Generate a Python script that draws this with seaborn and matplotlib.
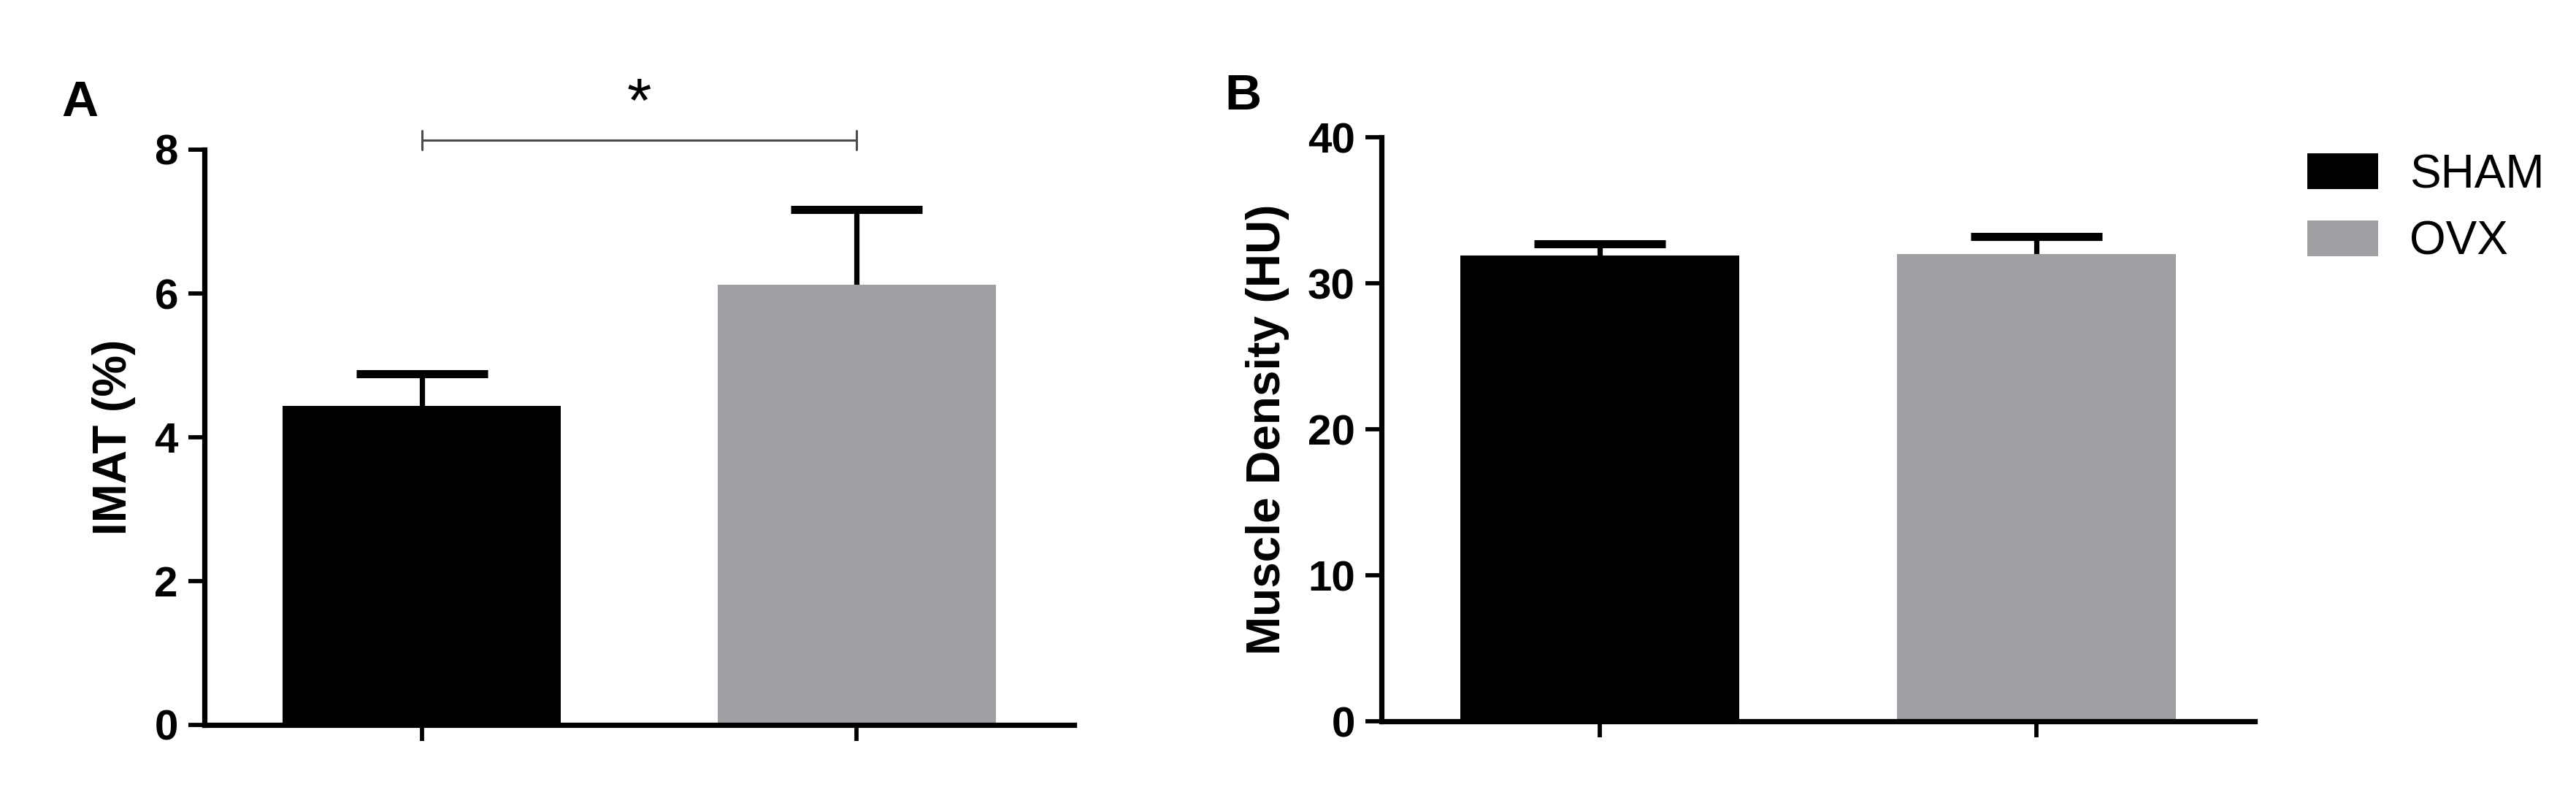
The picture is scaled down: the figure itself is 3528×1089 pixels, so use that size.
import matplotlib
matplotlib.use("Agg")
import matplotlib.pyplot as plt
from matplotlib.patches import Patch
import seaborn as sns
import pandas as pd
import numpy as np

# ---- data ----
groups = ["SHAM", "OVX"]
colors = ["#000000", "#a09fa4"]
imat_mean = [4.44, 6.12]
imat_sem = [0.44, 1.05]
density_mean = [31.9, 32.0]
density_sem = [0.8, 1.2]
imat_ticks = [0, 2, 4, 6, 8]
density_ticks = [0, 10, 20, 30, 40]

sns.set_style("ticks")
plt.rcParams["font.family"] = ["Liberation Sans", "DejaVu Sans"]
for k in ["text.color", "axes.labelcolor", "xtick.color", "ytick.color", "axes.edgecolor"]:
    plt.rcParams[k] = "black"

W, H = 3528, 1089
fig = plt.figure(figsize=(W / 100, H / 100), dpi=100)

axA = fig.add_axes([280 / W, 1 - 993 / H, (1471 - 280) / W, (993 - 205) / H])
axB = fig.add_axes([1892 / W, 1 - 988 / H, (3088 - 1892) / W, (988 - 188) / H])

df = pd.DataFrame({"group": groups, "imat": imat_mean, "density": density_mean})
pal = dict(zip(groups, colors))

LW = 5.2
for ax, col, sem, ticks, ylab in [
    (axA, "imat", imat_sem, imat_ticks, "IMAT (%)"),
    (axB, "density", density_sem, density_ticks, "Muscle Density (HU)"),
]:
    sns.barplot(data=df, x="group", y=col, hue="group", palette=pal,
                order=groups, hue_order=groups, width=0.64, errorbar=None,
                legend=False, saturation=1, linewidth=0, ax=ax, zorder=2)
    eb = ax.errorbar(range(len(groups)), df[col], yerr=[[0] * len(sem), sem],
                     fmt="none", ecolor="black", elinewidth=5.2, capsize=65,
                     capthick=8, zorder=1)
    # keep only the upper caps
    heights = np.asarray(df[col], dtype=float)
    for cap in eb[1]:
        if np.allclose(np.asarray(cap.get_ydata(), dtype=float), heights):
            cap.set_visible(False)
    ax.set_xlim(-0.5, 1.5)
    ax.set_ylim(ticks[0], ticks[-1])
    ax.set_yticks(ticks)
    ax.set_yticklabels([str(t) for t in ticks], fontsize=42, fontweight="bold")
    ax.set_xticks(range(len(groups)))
    ax.set_xticklabels(["", ""])
    ax.set_xlabel("")
    ax.set_ylabel(ylab, fontsize=46, fontweight="bold", labelpad=18)
    sns.despine(ax=ax)
    for s in ["left", "bottom"]:
        ax.spines[s].set_linewidth(LW)
        ax.spines[s].set_color("black")
        ax.spines[s].set_capstyle("projecting")
    ax.tick_params(axis="both", length=16, width=LW * 0.8, color="black", pad=10)
    ax.set_facecolor("white")

# significance bracket on panel A
bc = "#4a4a4a"
axA.plot([0, 1], [8.13, 8.13], color=bc, lw=2.2, clip_on=False)
axA.plot([0, 0], [8.0, 8.26], color=bc, lw=2.2, clip_on=False)
axA.plot([1, 1], [8.0, 8.26], color=bc, lw=2.2, clip_on=False)
axA.text(0.5, 8.39, "*", ha="center", va="baseline", fontsize=62, color="black")

# panel letters
fig.text(109 / W, 1 - 141 / H, "A", ha="center", va="center", fontsize=50, fontweight="bold")
fig.text(1702 / W, 1 - 132 / H, "B", ha="center", va="center", fontsize=50, fontweight="bold")

# legend
handles = [Patch(facecolor=c, edgecolor="none") for c in colors]
fig.legend(handles, groups, loc="upper left", bbox_to_anchor=(3160 / W, 1 - 210 / H),
           frameon=False, fontsize=46, handlelength=1.52, handleheight=0.81,
           handletextpad=0.67, labelspacing=0.5, borderpad=0, borderaxespad=0)

fig.savefig("out.png", dpi=100, facecolor="white")
